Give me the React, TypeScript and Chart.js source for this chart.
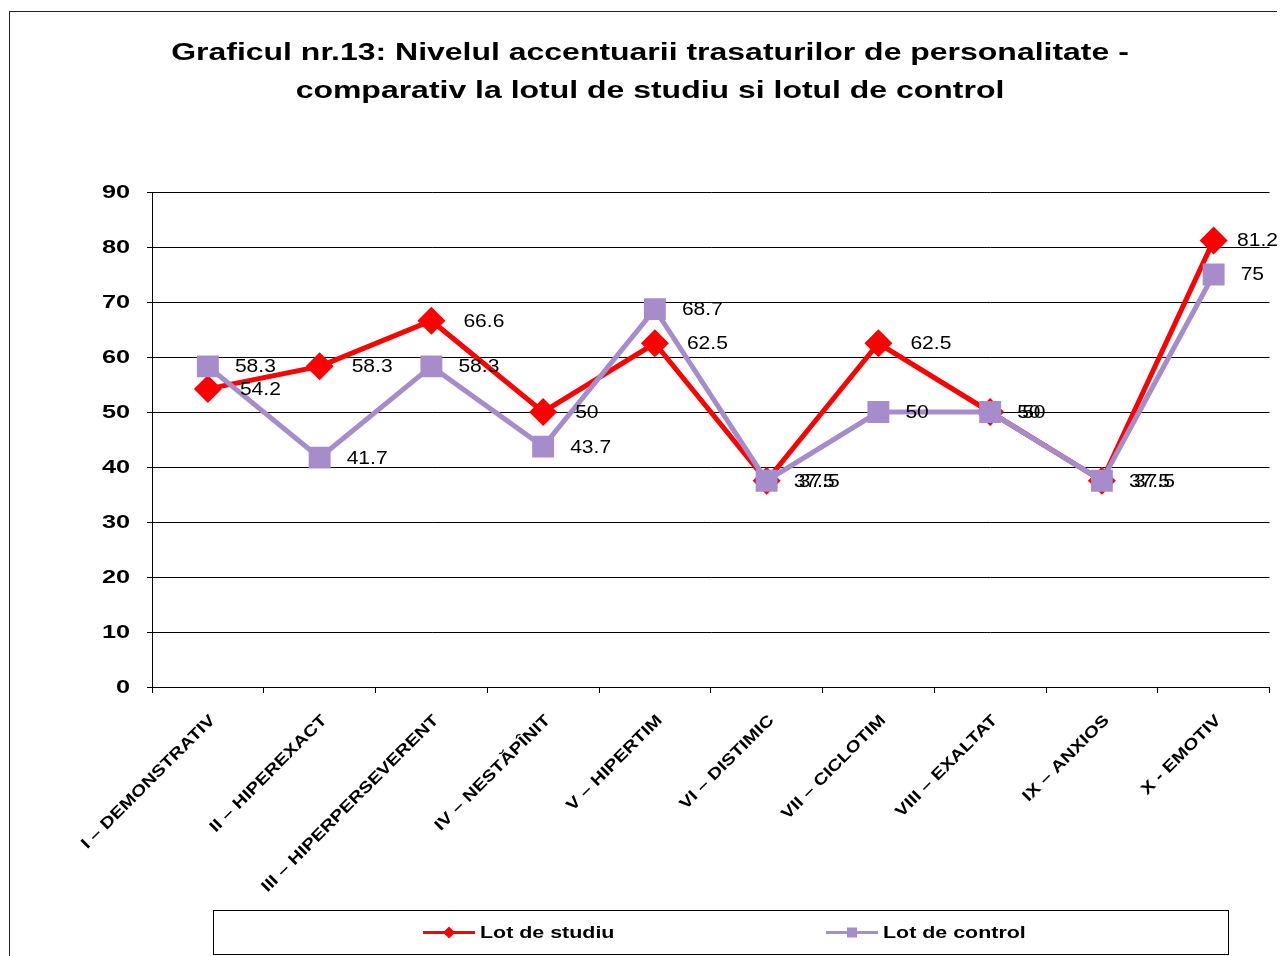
import React, { useEffect, useRef } from "react";
import { Chart, registerables } from "chart.js";

Chart.register(...registerables);

const categories = [
  "I – DEMONSTRATIV",
  "II – HIPEREXACT",
  "III – HIPERPERSEVERENT",
  "IV – NESTĂPÎNIT",
  "V – HIPERTIM",
  "VI – DISTIMIC",
  "VII – CICLOTIM",
  "VIII – EXALTAT",
  "IX – ANXIOS",
  "X - EMOTIV",
];
const lotStudiu = [54.2, 58.3, 66.6, 50, 62.5, 37.5, 62.5, 50, 37.5, 81.2];
const lotControl = [58.3, 41.7, 58.3, 43.7, 68.7, 37.5, 50, 50, 37.5, 75];
const yTicks = { min: 0, max: 90, step: 10 };
const titleLines = [
  "Graficul nr.13: Nivelul accentuarii trasaturilor de personalitate -",
  "comparativ la lotul de studiu si lotul de control",
];
const seriesNames = ["Lot de studiu", "Lot de control"];

const RED = "#FF0000";
const PURPLE = "#A68CCB";
const FONT = "'Liberation Sans', Arial, sans-serif";

// draw text horizontally widened (the reference uses wide-rendered glyphs)
function wideText(
  ctx: CanvasRenderingContext2D,
  text: string,
  x: number,
  y: number,
  sx: number,
  align: CanvasTextAlign,
  baseline: CanvasTextBaseline,
  rotation = 0
) {
  ctx.save();
  ctx.translate(x, y);
  if (rotation) ctx.rotate(rotation);
  ctx.scale(sx, 1);
  ctx.textAlign = align;
  ctx.textBaseline = baseline;
  ctx.fillText(text, 0, 0);
  ctx.restore();
}

const framePlugin = {
  id: "frame",
  beforeDraw(chart: any) {
    const ctx = chart.ctx;
    ctx.save();
    ctx.fillStyle = "#fff";
    ctx.fillRect(0, 0, chart.width, chart.height);
    ctx.strokeStyle = "#222";
    ctx.lineWidth = 1;
    ctx.strokeRect(1.5, 3.5, chart.width + 20, chart.height + 20);
    ctx.restore();
  },
};

const textPlugin = {
  id: "wideTexts",
  afterDraw(chart: any) {
    const ctx = chart.ctx;
    ctx.save();
    ctx.fillStyle = "#000";
    // title
    ctx.font = `bold 23px ${FONT}`;
    titleLines.forEach((line, i) => {
      wideText(ctx, line, 642, 46 + i * 38, 1.39, "center", "middle");
    });
    // y tick labels
    const ys = chart.scales.y;
    ctx.font = `bold 19px ${FONT}`;
    ys.ticks.forEach((t: any, i: number) => {
      wideText(ctx, String(t.value), ys.right - 22, ys.getPixelForTick(i) + 1, 1.33, "right", "middle");
    });
    // x tick labels, rotated 45°
    const xs = chart.scales.x;
    ctx.font = `bold 16px ${FONT}`;
    xs.ticks.forEach((t: any, i: number) => {
      const cx = xs.getPixelForTick(i);
      const label = chart.data.labels[i];
      wideText(ctx, label, cx + 8, xs.top + 34, 1.22, "right", "alphabetic", -Math.PI / 4);
    });
    ctx.restore();
  },
};

const labelPlugin = {
  id: "pointLabels",
  afterDatasetsDraw(chart: any) {
    const ctx = chart.ctx;
    ctx.save();
    ctx.font = `18px ${FONT}`;
    ctx.fillStyle = "#000";
    const sx = 1.17;
    chart.data.datasets.forEach((ds: any, di: number) => {
      const meta = chart.getDatasetMeta(di);
      const dx = di === 0 ? 32 : 27;
      meta.data.forEach((pt: any, i: number) => {
        const txt = String(ds.data[i]);
        const w = ctx.measureText(txt).width * sx;
        const x = Math.min(pt.x + dx, chart.width - 7 - w);
        wideText(ctx, txt, x, pt.y + 1, sx, "left", "middle");
      });
    });
    ctx.restore();
  },
};

const legendPlugin = {
  id: "boxLegend",
  afterDraw(chart: any) {
    const ctx = chart.ctx;
    ctx.save();
    const bx = 205.5, by = 902.5, bw = 1015, bh = 44;
    ctx.strokeStyle = "#000";
    ctx.lineWidth = 1;
    ctx.strokeRect(bx, by, bw, bh);
    const cy = by + 22;
    const items = [
      { x: 415, color: RED, style: "diamond", label: seriesNames[0] },
      { x: 818, color: PURPLE, style: "square", label: seriesNames[1] },
    ];
    items.forEach((it) => {
      ctx.strokeStyle = it.color;
      ctx.lineWidth = 3;
      ctx.beginPath();
      ctx.moveTo(it.x, cy);
      ctx.lineTo(it.x + 52, cy);
      ctx.stroke();
      ctx.fillStyle = it.color;
      const mx = it.x + 26;
      ctx.beginPath();
      if (it.style === "diamond") {
        ctx.moveTo(mx, cy - 6);
        ctx.lineTo(mx + 6, cy);
        ctx.lineTo(mx, cy + 6);
        ctx.lineTo(mx - 6, cy);
        ctx.closePath();
      } else {
        ctx.rect(mx - 5, cy - 5, 10, 10);
      }
      ctx.fill();
      ctx.fillStyle = "#000";
      ctx.font = `bold 17px ${FONT}`;
      wideText(ctx, it.label, it.x + 57, cy + 1, 1.26, "left", "middle");
    });
    ctx.restore();
  },
};

export default function App() {
  const ref = useRef<HTMLCanvasElement>(null);
  useEffect(() => {
    document.documentElement.style.overflow = "hidden";
    document.body.style.overflow = "hidden";
    if (!ref.current) return;
    const chart = new Chart(ref.current, {
      type: "line",
      data: {
        labels: categories,
        datasets: [
          {
            label: seriesNames[0],
            data: lotStudiu,
            borderColor: RED,
            backgroundColor: RED,
            borderWidth: 5,
            pointStyle: "rectRot",
            pointRadius: 14,
            pointBackgroundColor: RED,
            pointBorderWidth: 0,
            tension: 0,
            order: 2,
          },
          {
            label: seriesNames[1],
            data: lotControl,
            borderColor: PURPLE,
            backgroundColor: PURPLE,
            borderWidth: 5,
            pointStyle: "rect",
            pointRadius: 15.5,
            pointBackgroundColor: PURPLE,
            pointBorderWidth: 0,
            tension: 0,
            order: 1,
          },
        ],
      },
      options: {
        responsive: false,
        animation: false,
        layout: { padding: { top: 184, right: 15, bottom: 0, left: 0 } },
        plugins: {
          legend: { display: false },
          tooltip: { enabled: false },
          title: { display: false },
        },
        scales: {
          x: {
            offset: true,
            grid: {
              offset: true,
              drawOnChartArea: false,
              drawTicks: true,
              tickLength: 6,
              color: "#000",
            },
            border: { display: true, color: "#000" },
            ticks: { display: false, autoSkip: false },
            afterFit(scale: any) {
              scale.height = 269;
            },
          },
          y: {
            min: yTicks.min,
            max: yTicks.max,
            grid: { color: "#000", lineWidth: 1, tickLength: 5, drawTicks: true },
            border: { display: true, color: "#000" },
            ticks: { display: false, stepSize: yTicks.step },
            afterFit(scale: any) {
              scale.width = 144;
            },
          },
        },
      },
      plugins: [framePlugin, labelPlugin, textPlugin, legendPlugin],
    });
    return () => chart.destroy();
  }, []);
  return (
    <canvas
      ref={ref}
      width={1277}
      height={948}
      style={{ display: "block", width: 1277, height: 948 }}
    />
  );
}
